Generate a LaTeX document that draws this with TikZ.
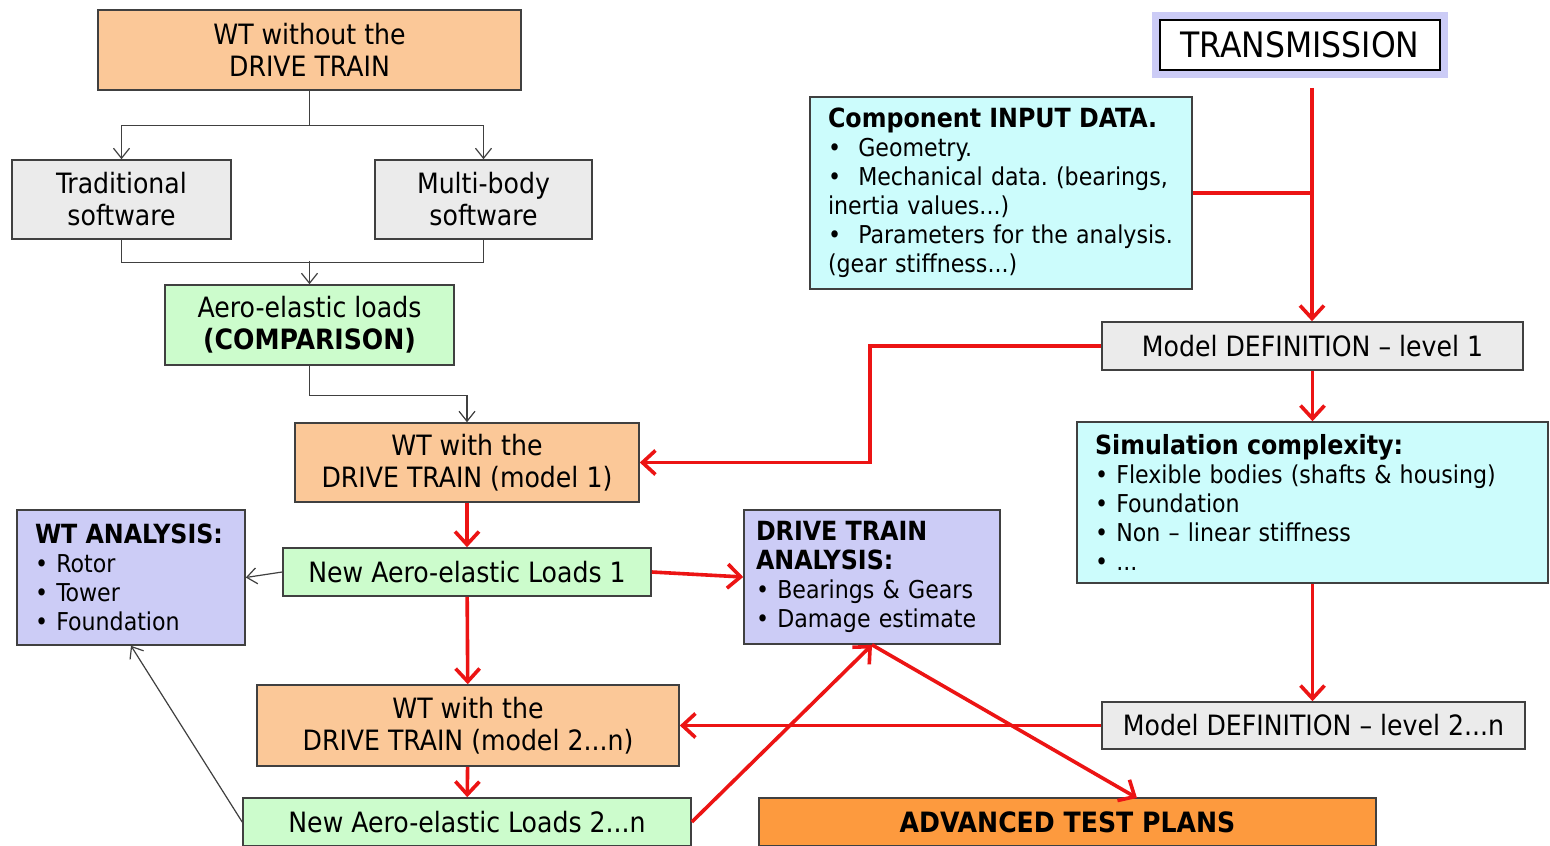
\documentclass[tikz,border=0pt]{standalone}
\usepackage{fontspec}
\setmainfont{DejaVu Sans Condensed}
\usetikzlibrary{arrows.meta}
\frenchspacing

\definecolor{wtorange}{HTML}{FBC898}
\definecolor{swgray}{HTML}{EBEBEB}
\definecolor{loadgreen}{HTML}{CCFCCC}
\definecolor{analav}{HTML}{CCCCF6}
\definecolor{datacyan}{HTML}{CCFCFC}
\definecolor{testorange}{HTML}{FD9A3E}
\definecolor{flowred}{HTML}{EC1414}
\definecolor{boxline}{HTML}{404040}

\newcommand{\boxhead}[1]{{\fontsize{13.2}{14.5}\bfseries #1}}

\begin{document}
\begin{tikzpicture}[x=0.5pt,y=-0.5pt,
  box/.style={draw=boxline,line width=0.8pt,inner sep=0pt,align=center,
    font=\fontsize{14}{16}\selectfont},
  listbox/.style={box,inner xsep=9pt,align=left,
    font=\fontsize{12.3}{14.5}\selectfont},
  blk/.style={draw=black!75,line width=0.6pt},
  blkarrow/.style={blk,-{Straight Barb[length=5pt,width=8pt]}},
  redline/.style={draw=flowred,line width=1.8pt},
  redarrow/.style={redline,-{Straight Barb[length=6.5pt,width=12pt,line width=1.8pt]}}]
\clip (0,0) rectangle (1550,845);
\fill[white] (0,0) rectangle (1550,845);

% left column
\node[box,fill=wtorange,minimum width=211.5pt,minimum height=40pt] (wtno) at (309.5,50) {WT without the\\DRIVE TRAIN};
\node[box,fill=swgray,minimum width=109.5pt,minimum height=39.5pt] (trad) at (121.5,199.5) {Traditional\\software};
\node[box,fill=swgray,minimum width=108.5pt,minimum height=39.5pt] (multi) at (483.5,199.5) {Multi-body\\software};
\node[box,fill=loadgreen,minimum width=144.5pt,minimum height=40pt] (aero) at (309.5,325) {Aero-elastic loads\\\textbf{(COMPARISON)}};
\node[box,fill=wtorange,minimum width=172pt,minimum height=39.5pt] (wtone) at (467,462.5) {WT with the\\DRIVE TRAIN (model 1)};
\node[box,fill=loadgreen,minimum width=184pt,minimum height=24pt] (newone) at (467,572) {New Aero-elastic Loads 1};
\node[listbox,fill=analav,text width=96pt,minimum height=67.5pt] (wtan) at (131,577.5)
  {\boxhead{WT ANALYSIS:}\\\textbullet\ Rotor\\\textbullet\ Tower\\\textbullet\ Foundation};
\node[listbox,fill=analav,inner xsep=6pt,text width=116pt,minimum height=67pt] (dtan) at (872,577)
  {\boxhead{DRIVE TRAIN}\\\boxhead{ANALYSIS:}\\\textbullet\ Bearings \& Gears\\\textbullet\ Damage estimate};
\node[box,fill=wtorange,minimum width=211pt,minimum height=40.5pt] (wttwo) at (468,725.5) {WT with the\\DRIVE TRAIN (model 2...n)};
\node[box,fill=loadgreen,minimum width=224pt,minimum height=24pt] (newtwo) at (467,822) {New Aero-elastic Loads 2...n};
\node[box,fill=testorange,minimum width=308.5pt,minimum height=24pt,font=\fontsize{14}{16}\bfseries] (atp) at (1067.5,822) {ADVANCED TEST PLANS};

% right column
\node[box,fill=white,draw=black,line width=1pt,minimum width=140pt,minimum height=25pt,
  font=\fontsize{17.5}{19}\selectfont,
  preaction={draw=analav,line width=8pt}] (trans) at (1300,45) {TRANSMISSION};
\node[listbox,fill=datacyan,text width=173pt,minimum height=96pt] (comp) at (1001,193)
  {\boxhead{Component INPUT DATA.}\\
   \textbullet\hspace{0.7em}Geometry.\\
   \textbullet\hspace{0.7em}Mechanical data. (bearings,\\
   inertia values...)\\
   \textbullet\hspace{0.7em}Parameters for the analysis.\\
   (gear stiffness...)};
\node[box,fill=swgray,minimum width=210.5pt,minimum height=24pt] (mdone) at (1312.5,346) {Model DEFINITION -- level 1};
\node[listbox,fill=datacyan,text width=217.5pt,minimum height=80.5pt] (sim) at (1312.5,502.5)
  {\boxhead{Simulation complexity:}\\
   \textbullet\ Flexible bodies (shafts \& housing)\\
   \textbullet\ Foundation\\
   \textbullet\ Non -- linear stiffness\\
   \textbullet\ ...};
\node[box,fill=swgray,minimum width=211.5pt,minimum height=23.5pt] (mdtwo) at (1313.5,725.5) {Model DEFINITION -- level 2...n};

\coordinate (trunk) at (1312,88);
\coordinate (atptop) at (1137,798);

% thin connectors
\draw[blkarrow] (wtno.south) -- ++(0,35) -| (trad.north);
\draw[blkarrow] (wtno.south) -- ++(0,35) -| (multi.north);
\draw[blk] (trad.south) -- ++(0,23) -| (multi.south);
\draw[blkarrow] (aero.north) ++(0,-23) -- (aero.north);
\draw[blkarrow] (aero.south) -- ++(0,30) -| (wtone.north);
\draw[blkarrow] (newone.west) -- (wtan.east);
\draw[blkarrow] (newtwo.west) -- (wtan.south);

% red flow
\draw[redarrow] (wtone) -- (newone);
\draw[redarrow] (newone) -- (wttwo);
\draw[redarrow] (wttwo) -- (newtwo);
\draw[redarrow] (newone.east) -- (dtan.west);
\draw[redarrow] (newtwo.east) -- (dtan.south);
\draw[redarrow] (dtan.south) -- (atptop);
\draw[redarrow] (trunk) -- (trunk |- mdone.north);
\draw[redline] (comp.east) -- (comp.east -| trunk);
\draw[redarrow] (mdone.west) -- ++(-231,0) |- (wtone.east);
\draw[redarrow] (mdone.south) -- (sim.north);
\draw[redarrow] (sim.south) -- (sim.south |- mdtwo.north);
\draw[redarrow] (mdtwo.west) -- (wttwo.east);
\end{tikzpicture}
\end{document}
